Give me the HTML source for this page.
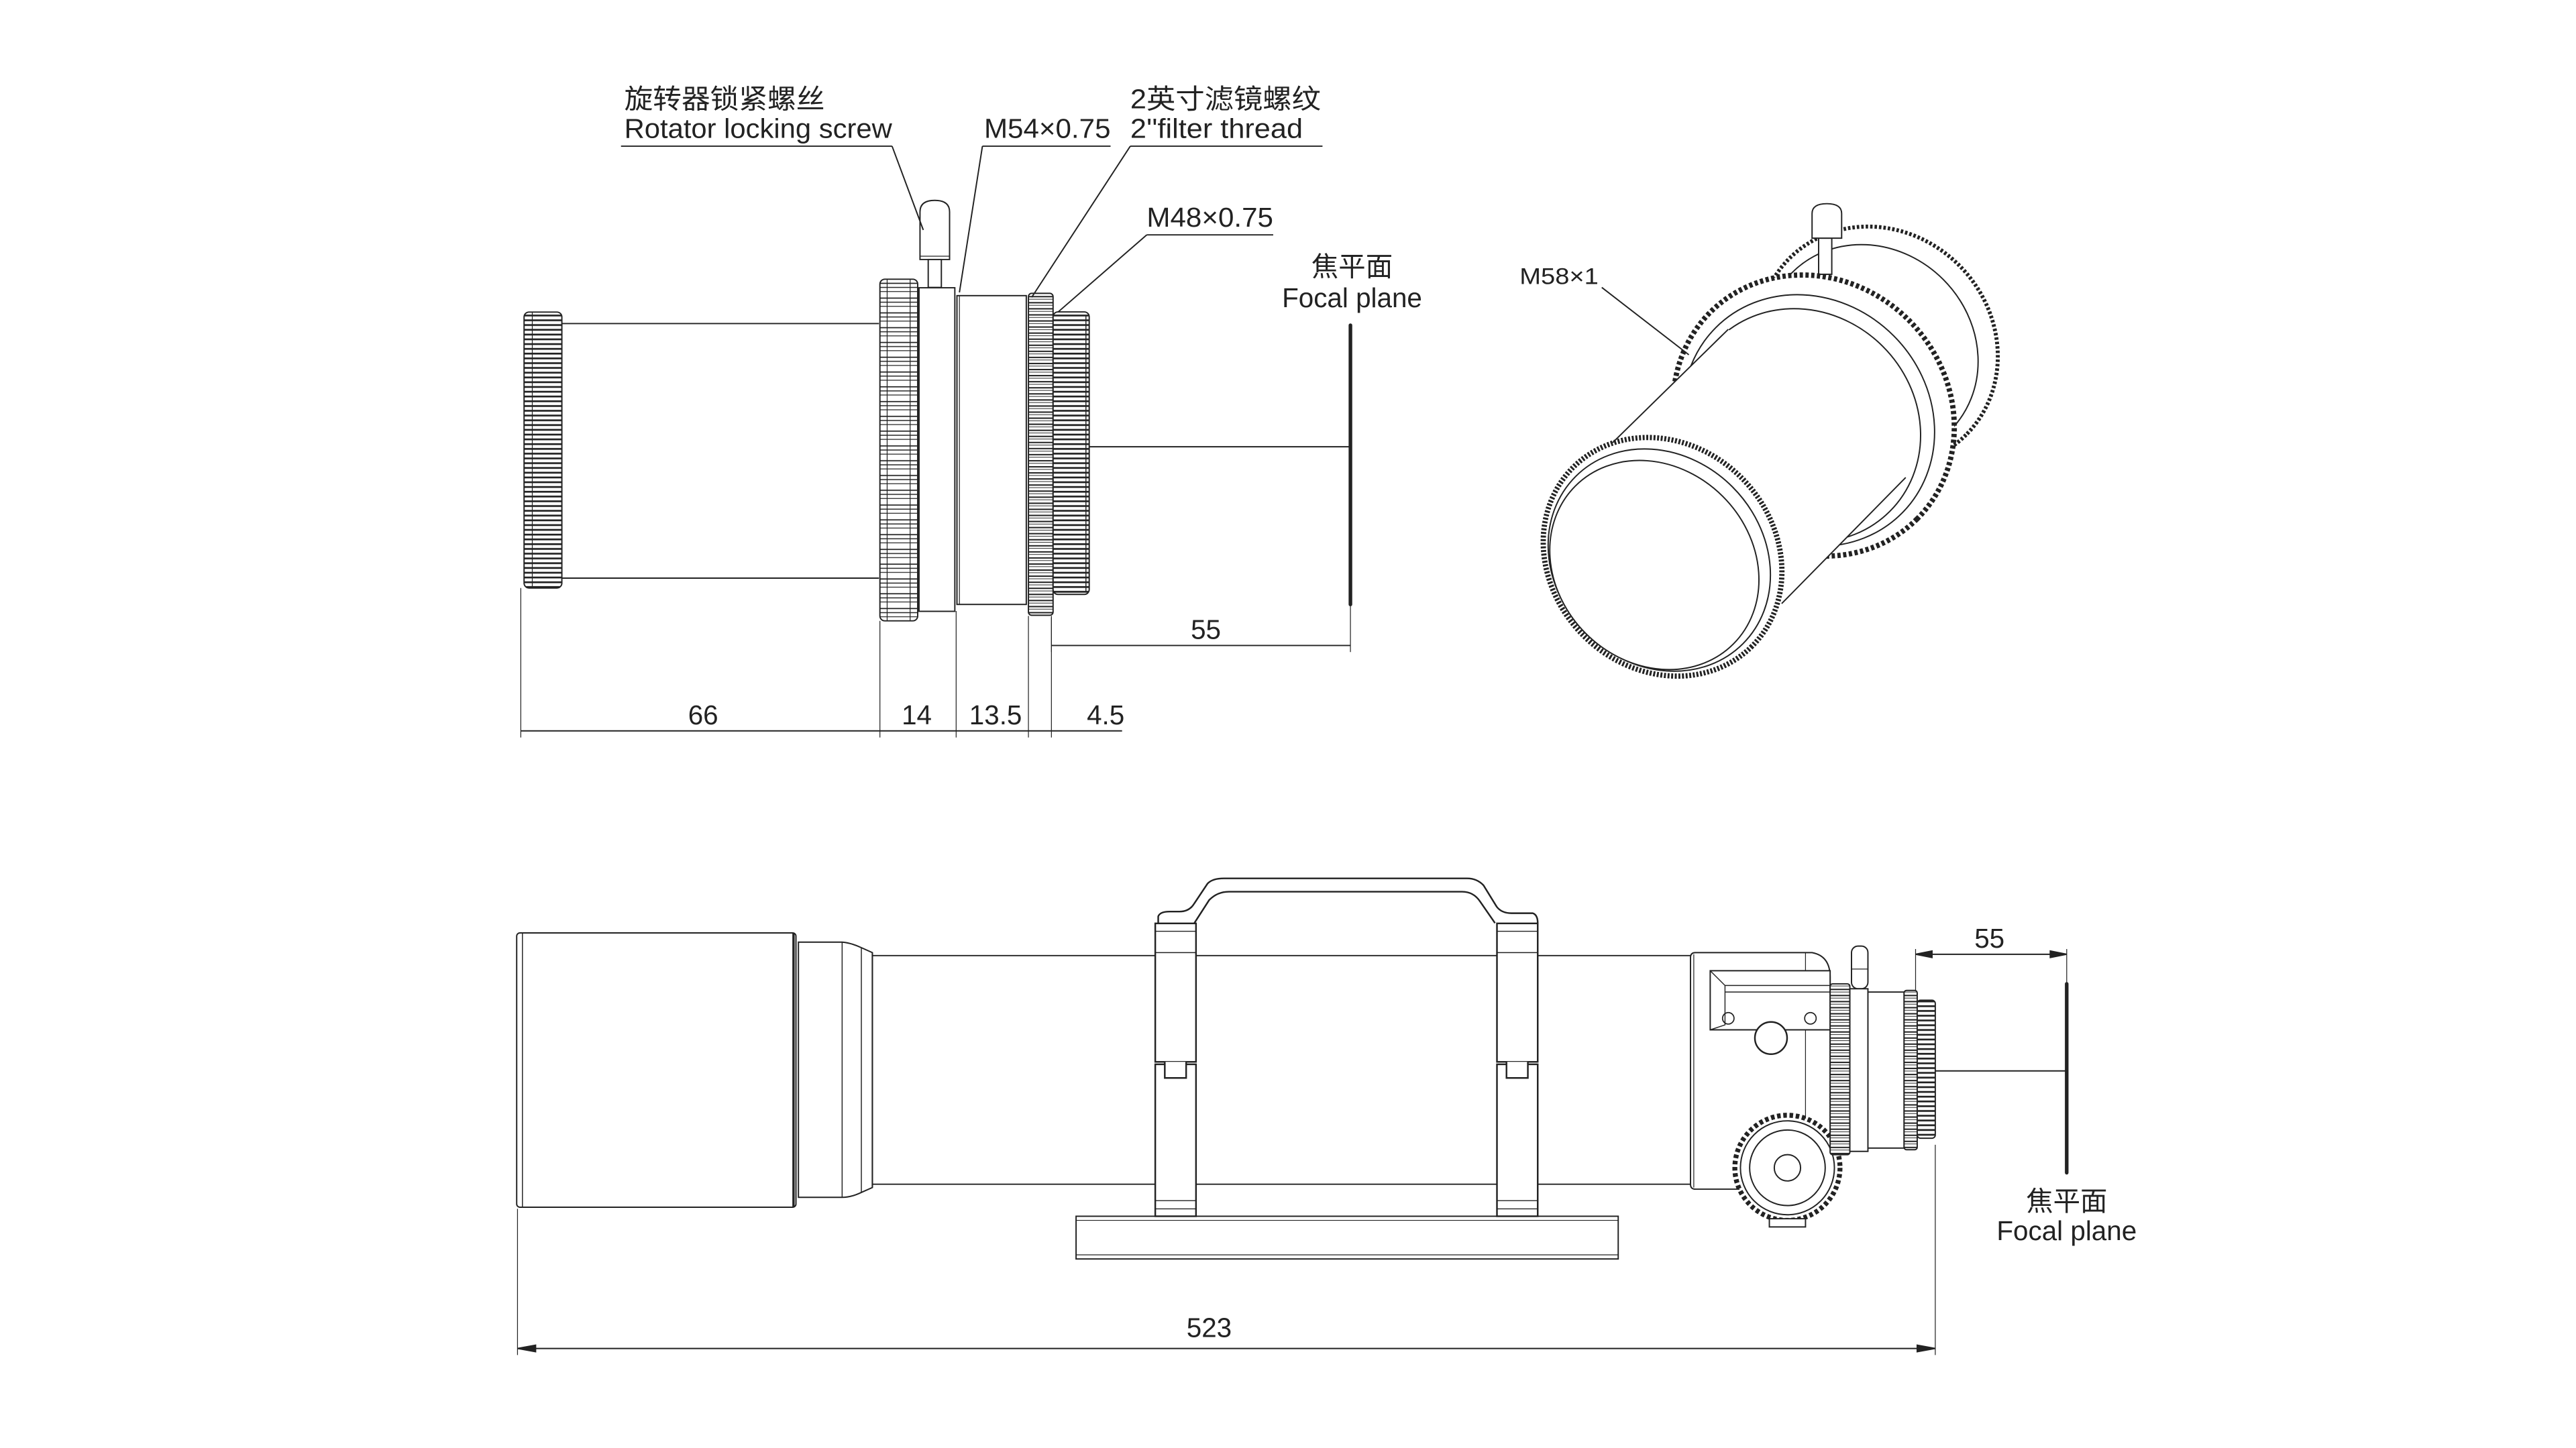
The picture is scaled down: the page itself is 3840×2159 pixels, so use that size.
<!DOCTYPE html>
<html><head><meta charset="utf-8"><style>
html,body{margin:0;padding:0;background:#fff;}
svg{display:block;}
text{font-family:"Liberation Sans","Noto Sans CJK SC",sans-serif;fill:#222;}
</style></head><body>
<svg width="3840" height="2159" viewBox="0 0 1568 881.6" xmlns="http://www.w3.org/2000/svg">
<defs>
<pattern id="kA" patternUnits="userSpaceOnUse" width="30" height="9" y="172">
<rect width="30" height="9" fill="#fff"/>
<line x1="0" y1="0.5" x2="30" y2="0.5" stroke="#222" stroke-width="0.7"/>
<line x1="0" y1="3" x2="30" y2="3" stroke="#222" stroke-width="0.6"/>
<line x1="0" y1="5.5" x2="30" y2="5.5" stroke="#222" stroke-width="0.5"/>
</pattern>
<pattern id="kB" patternUnits="userSpaceOnUse" width="30" height="3.7" y="180">
<rect width="30" height="3.7" fill="#fff"/>
<line x1="0" y1="0.6" x2="30" y2="0.6" stroke="#222" stroke-width="0.8"/>
<line x1="0" y1="2.2" x2="30" y2="2.2" stroke="#222" stroke-width="0.4"/>
</pattern>
<pattern id="kC" patternUnits="userSpaceOnUse" width="30" height="2.9">
<rect width="30" height="2.9" fill="#fff"/>
<line x1="0" y1="0.7" x2="30" y2="0.7" stroke="#222" stroke-width="1.1"/>
</pattern>
</defs>
<g fill="none" stroke="#222" stroke-width="0.8">

<!-- ===== TOP LEFT SIDE VIEW ===== -->
<rect x="319" y="190" width="23" height="168" rx="3" fill="url(#kC)"/>
<line x1="324" y1="190" x2="324" y2="358" stroke-width="0.5"/>
<line x1="342" y1="197" x2="535" y2="197"/>
<line x1="342" y1="352" x2="535" y2="352"/>
<rect x="535.6" y="170" width="23" height="208" rx="3" fill="url(#kA)"/>
<line x1="540" y1="170" x2="540" y2="378" stroke-width="0.5"/>
<line x1="554" y1="170" x2="554" y2="378" stroke-width="0.5"/>
<rect x="559.4" y="175.2" width="21.8" height="197" fill="#fff"/>
<path d="M560,158 L560,129 Q560,122 569,122 Q578,122 578,129 L578,158 Z" fill="#fff"/>
<line x1="560" y1="156" x2="578" y2="156" stroke-width="0.5"/>
<rect x="565" y="158" width="8" height="17" fill="#fff"/>
<rect x="582.5" y="180" width="42.2" height="188" fill="#fff"/>
<line x1="584" y1="180" x2="584" y2="368" stroke-width="0.5"/>
<rect x="626" y="178.6" width="15" height="196" rx="2" fill="url(#kB)"/>
<rect x="641" y="189.9" width="22" height="172" rx="3" fill="url(#kC)"/>
<line x1="661" y1="192" x2="661" y2="360" stroke-width="0.6"/>
<line x1="663" y1="272" x2="822" y2="272"/>
<line x1="822" y1="198" x2="822" y2="368" stroke-width="2.2" stroke-linecap="round"/>
<line x1="822" y1="368" x2="822" y2="397" stroke-width="0.5"/>
<line x1="640" y1="376" x2="640" y2="397" stroke-width="0.5"/>
<line x1="640" y1="393" x2="822" y2="393"/>
<line x1="317" y1="445" x2="683" y2="445"/>
<line x1="317" y1="358" x2="317" y2="449" stroke-width="0.5"/>
<line x1="535.6" y1="378" x2="535.6" y2="449" stroke-width="0.5"/>
<line x1="582" y1="372" x2="582" y2="449" stroke-width="0.5"/>
<line x1="626" y1="375" x2="626" y2="449" stroke-width="0.5"/>
<line x1="640" y1="375" x2="640" y2="449" stroke-width="0.5"/>
<line x1="378" y1="89" x2="543" y2="89"/>
<line x1="543" y1="89" x2="562" y2="140"/>
<line x1="598" y1="89" x2="676" y2="89"/>
<line x1="598" y1="89" x2="584" y2="178"/>
<line x1="688" y1="89" x2="805" y2="89"/>
<line x1="688" y1="89" x2="628" y2="181"/>
<line x1="698" y1="143" x2="775" y2="143"/>
<line x1="698" y1="143" x2="644" y2="190"/>

<!-- ===== TOP RIGHT 3D VIEW ===== -->
<!-- rear ring -->
<ellipse cx="1143" cy="211" rx="76" ry="70" transform="rotate(45 1143 211)" fill="#fff" stroke-width="2.4" stroke-dasharray="1.5 1.2"/>
<ellipse cx="1139" cy="214" rx="68" ry="62" transform="rotate(45 1139 214)" fill="#fff"/>
<!-- screw -->
<rect x="1107" y="145" width="8" height="22" fill="#fff"/>
<path d="M1103,145 L1103,130 Q1103,124 1112,124 Q1121,124 1121,130 L1121,145 Z" fill="#fff"/>
<!-- big knurled ring -->
<ellipse cx="1104" cy="253" rx="89" ry="82" transform="rotate(45 1104 253)" fill="#fff" stroke-width="3.2" stroke-dasharray="2 1.5"/>
<ellipse cx="1101" cy="256" rx="80" ry="73" transform="rotate(45 1101 256)" fill="#fff"/>
<ellipse cx="1098" cy="259" rx="74" ry="68" transform="rotate(45 1098 259)" fill="#fff"/>
<!-- cylinder body -->
<polygon points="981.6,269.5 1052,200.5 1160,290.7 1084.5,367.5" fill="#fff" stroke="none"/>
<line x1="981.6" y1="269.5" x2="1052" y2="200.5"/>
<line x1="1084.5" y1="367.5" x2="1160" y2="290.7"/>
<!-- front knurled ring -->
<ellipse cx="1012" cy="339" rx="77" ry="68" transform="rotate(45 1012 339)" fill="#fff" stroke-width="3.2" stroke-dasharray="1.2 1"/>
<ellipse cx="1010" cy="341" rx="72" ry="63" transform="rotate(45 1010 341)" fill="#fff"/>
<ellipse cx="1007" cy="344" rx="68" ry="59" transform="rotate(45 1007 344)" fill="#fff"/>
<line x1="975" y1="175" x2="1028" y2="216"/>

<!-- ===== BOTTOM FULL VIEW ===== -->
<rect x="314.5" y="568" width="170" height="167" rx="2" fill="#fff"/>
<line x1="318" y1="568" x2="318" y2="735" stroke-width="0.6"/>
<line x1="483" y1="568" x2="483" y2="735" stroke-width="1.4"/>
<path d="M486,573.6 L512.6,573.6 Q518,574 524.3,577 L531,580 L531,723 L524.3,726 Q518,729 512.6,729 L486,729 Z" fill="#fff"/>
<line x1="512.6" y1="573.6" x2="512.6" y2="729" stroke-width="0.6"/>
<line x1="524.3" y1="577" x2="524.3" y2="726" stroke-width="0.6"/>
<line x1="531" y1="581.8" x2="1030" y2="581.8"/>
<line x1="531" y1="721" x2="1030" y2="721"/>
<line x1="531" y1="580" x2="531" y2="723"/>
<rect x="655" y="740.5" width="330" height="26" fill="#fff"/>
<line x1="655" y1="743" x2="985" y2="743" stroke-width="0.5"/>
<line x1="655" y1="764" x2="985" y2="764" stroke-width="0.5"/>
<path d="M705,562 L705,558 Q706,555 712,555 L718,555 Q724,555 727,550 L735,538 Q738,534.8 745,534.8 L893,534.8 Q899,534.8 903,539 L911,552 Q914,556 920,556 L933,556 Q936,557 936,562" fill="none" stroke-width="1"/>
<path d="M727,562 L736,548 Q741,542.9 748,542.9 L890,542.9 Q897,542.9 901,549 L910,562" fill="none" stroke-width="1"/>
<rect x="703.2" y="562.2" width="24.8" height="84.3" fill="#fff" stroke-width="1"/>
<rect x="703.2" y="648" width="24.8" height="92.5" fill="#fff" stroke-width="1"/>
<line x1="703.2" y1="567" x2="728" y2="567" stroke-width="0.6"/>
<line x1="703.2" y1="580" x2="728" y2="580" stroke-width="0.6"/>
<line x1="703.2" y1="731" x2="728" y2="731" stroke-width="0.6"/>
<line x1="703.2" y1="736" x2="728" y2="736" stroke-width="0.6"/>
<path d="M709,646.5 L709,656.3 L722,656.3 L722,646.5" fill="#fff" stroke-width="1"/>
<rect x="911.2" y="562.2" width="24.8" height="84.3" fill="#fff" stroke-width="1"/>
<rect x="911.2" y="648" width="24.8" height="92.5" fill="#fff" stroke-width="1"/>
<line x1="911.2" y1="567" x2="936" y2="567" stroke-width="0.6"/>
<line x1="911.2" y1="580" x2="936" y2="580" stroke-width="0.6"/>
<line x1="911.2" y1="731" x2="936" y2="731" stroke-width="0.6"/>
<line x1="911.2" y1="736" x2="936" y2="736" stroke-width="0.6"/>
<path d="M917,646.5 L917,656.3 L930,656.3 L930,646.5" fill="#fff" stroke-width="1"/>
<path d="M1029,583 Q1029,580 1032,580 L1103,580 Q1114,582 1114,595 L1114,724 L1032,724 Q1029,724 1029,721 Z" fill="#fff"/>
<line x1="1031" y1="581" x2="1031" y2="723" stroke-width="0.5"/>
<line x1="1099" y1="580" x2="1099" y2="724" stroke-width="0.5"/>
<path d="M1041,591 L1114,591 L1114,627 L1041,627 Z" fill="#fff"/>
<path d="M1041,591 L1050,600 L1050,624 L1041,627 M1050,600 L1114,600 M1050,604 L1114,604" stroke-width="0.6"/>
<circle cx="1052" cy="620" r="3.5" stroke-width="0.7"/>
<circle cx="1102" cy="620" r="3.5" stroke-width="0.7"/>
<circle cx="1078" cy="632" r="9.8" fill="#fff" stroke-width="1"/>
<circle cx="1088" cy="711" r="32" fill="#fff" stroke-width="3" stroke-dasharray="2.2 1.6"/>
<circle cx="1088" cy="711" r="28.6" fill="#fff"/>
<circle cx="1088" cy="711" r="23"/>
<circle cx="1088" cy="711" r="8"/>
<rect x="1077" y="742" width="22" height="5" fill="#fff"/>
<rect x="1114" y="599" width="12" height="104" rx="1.5" fill="url(#kB)"/>
<rect x="1127" y="576" width="10" height="26" rx="4" fill="#fff"/>
<line x1="1127" y1="590" x2="1137" y2="590" stroke-width="0.5"/>
<rect x="1126" y="602" width="11" height="99" fill="#fff"/>
<rect x="1137" y="604" width="22" height="95" fill="#fff"/>
<rect x="1159" y="603" width="8" height="97" rx="1.5" fill="url(#kB)"/>
<rect x="1167" y="609" width="11" height="84" rx="2" fill="url(#kC)"/>
<line x1="1178" y1="652" x2="1258" y2="652"/>
<line x1="1258" y1="599" x2="1258" y2="714" stroke-width="2.2" stroke-linecap="round"/>
<line x1="1258" y1="577.8" x2="1258" y2="599" stroke-width="0.5"/>
<line x1="1166" y1="577.8" x2="1166" y2="603" stroke-width="0.5"/>
<line x1="1166" y1="581" x2="1258" y2="581"/>
<path d="M1166,581 L1176,579 L1176,583 Z M1258,581 L1248,579 L1248,583 Z" fill="#222"/>
<line x1="315" y1="736" x2="315" y2="825" stroke-width="0.5"/>
<line x1="1178" y1="697" x2="1178" y2="825" stroke-width="0.5"/>
<line x1="315" y1="821" x2="1178" y2="821"/>
<path d="M315,821 L326,819 L326,823 Z M1178,821 L1167,819 L1167,823 Z" fill="#222"/>
</g>

<g font-size="16.5">
<text x="380" y="66" textLength="122" lengthAdjust="spacingAndGlyphs">旋转器锁紧螺丝</text>
<text x="380" y="84" textLength="163" lengthAdjust="spacingAndGlyphs">Rotator locking screw</text>
<text x="599" y="84" textLength="77" lengthAdjust="spacingAndGlyphs">M54×0.75</text>
<text x="688" y="66" textLength="116" lengthAdjust="spacingAndGlyphs">2英寸滤镜螺纹</text>
<text x="688" y="84" textLength="105" lengthAdjust="spacingAndGlyphs">2''filter thread</text>
<text x="698" y="138" textLength="77" lengthAdjust="spacingAndGlyphs">M48×0.75</text>
<text x="823" y="168" text-anchor="middle">焦平面</text>
<text x="823" y="187" text-anchor="middle">Focal plane</text>
<text x="734" y="389" text-anchor="middle">55</text>
<text x="428" y="441" text-anchor="middle">66</text>
<text x="558" y="441" text-anchor="middle">14</text>
<text x="606" y="441" text-anchor="middle">13.5</text>
<text x="673" y="441" text-anchor="middle">4.5</text>
<text x="925" y="173" font-size="14" textLength="48" lengthAdjust="spacingAndGlyphs">M58×1</text>
<text x="1211" y="577" text-anchor="middle">55</text>
<text x="1258" y="737" text-anchor="middle">焦平面</text>
<text x="1258" y="755" text-anchor="middle">Focal plane</text>
<text x="736" y="814" text-anchor="middle">523</text>
</g>
</svg>
</body></html>
